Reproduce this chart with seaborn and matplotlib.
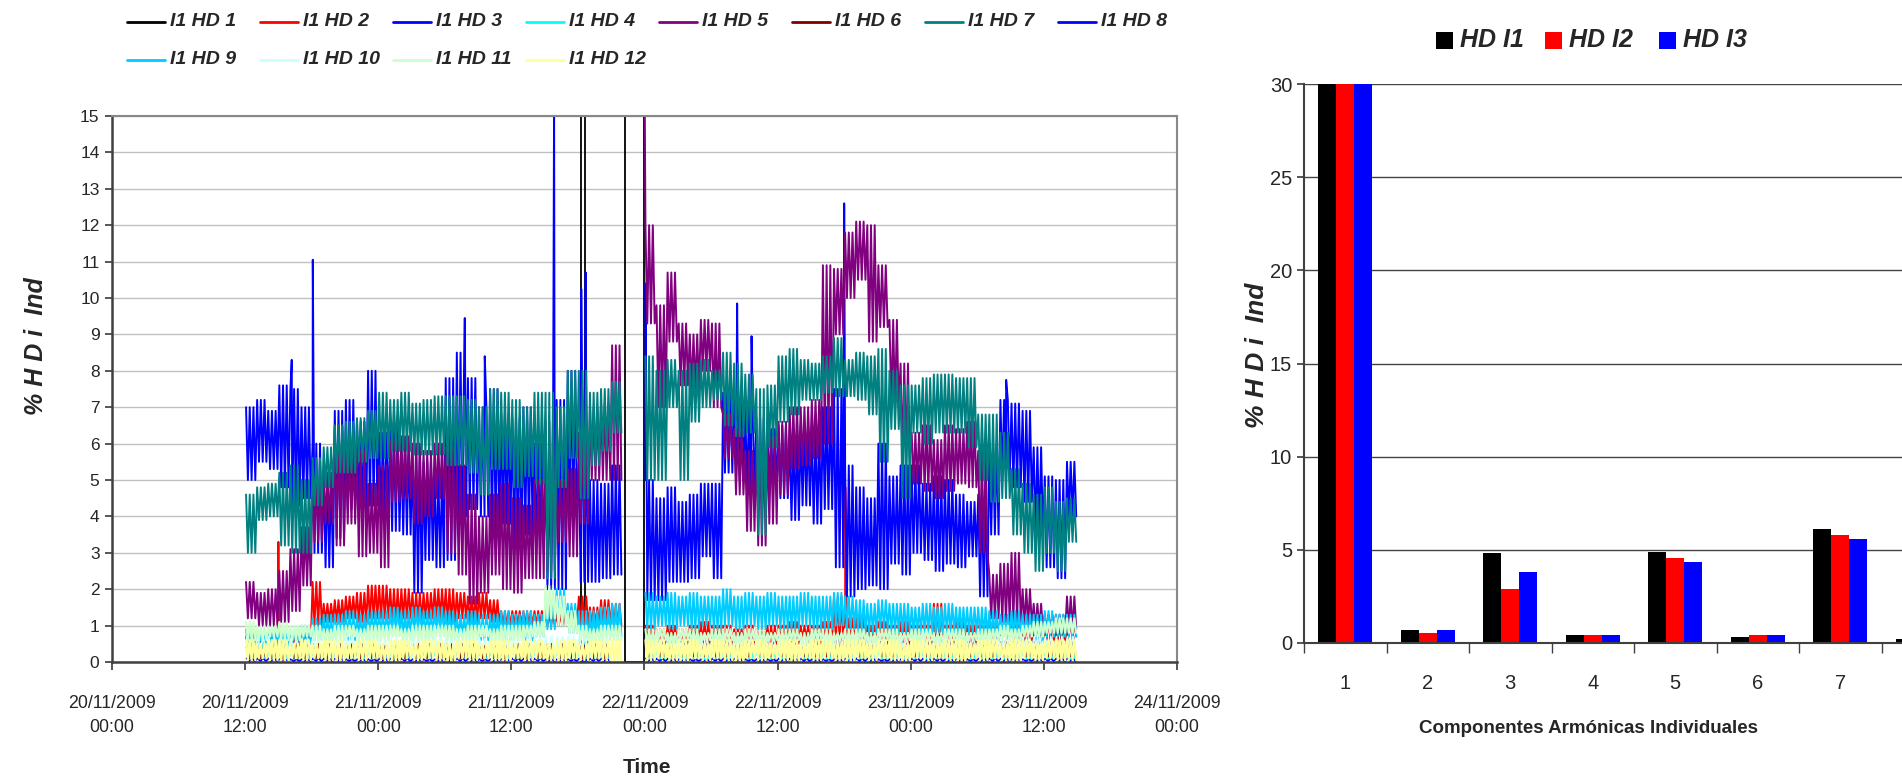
import pandas as pd
import seaborn as sns
import matplotlib
matplotlib.use('Agg')
import matplotlib.pyplot as plt
from matplotlib.lines import Line2D
from matplotlib.patches import Rectangle

# hourly readings (hour counted from 20/11/2009 00:00), None = no data
hour0 = 12
# HD3 (blue): top and bottom of the band in each hour
hd3_hi = [7.0, 7.2, 6.9, 7.6, 7.5, 7.0, 6.0, 5.2, 6.9, 7.2,
          6.6, 8.0, 6.3, 6.5, 6.0, 5.9, 5.5, 5.2, 7.8, 8.5,
          7.8, 7.0, 7.5, 6.8, 6.7, 7.0, 6.0, 5.4, 7.2, 8.0,
          5.5, 5.0, 4.9, 5.4, None, None, 5.0, 4.5, 4.8, 4.4,
          4.6, 4.9, 4.9, 7.4, 7.3, 7.0, 6.7, 6.4, 6.5, 6.2,
          6.5, 6.4, 7.0, 7.5, 5.4, 4.8, 4.5, 6.0, 5.1, 5.4,
          5.4, 4.9, 5.1, 5.0, 4.6, 4.4, 4.6, 6.0, 7.2, 7.1,
          6.9, 5.9, 5.1, 5.0, 5.5]
hd3_lo = [5.0, 5.5, 5.3, 4.8, 4.3, 4.5, 3.0, 2.6, 3.4, 4.2,
          3.9, 4.3, 4.0, 3.6, 3.5, 1.9, 2.8, 2.6, 2.8, 4.0,
          4.2, 4.0, 3.6, 3.8, 3.3, 3.5, 3.0, 2.0, 2.0, 4.0,
          2.2, 2.2, 2.3, 2.4, None, None, 1.7, 1.7, 2.2, 2.2,
          2.3, 2.9, 2.3, 5.2, 5.0, 4.6, 4.4, 4.7, 4.5, 3.9,
          4.3, 3.8, 4.2, 2.6, 1.8, 2.0, 2.1, 2.0, 2.7, 2.4,
          3.0, 2.8, 2.5, 2.7, 2.6, 2.9, 1.8, 3.5, 5.0, 4.8,
          4.4, 3.5, 2.6, 2.3, 4.0]
hd3_spikes = [(16.2, 8.3), (18.1, 11.05), (31.8, 9.45), (33.6, 8.4), (39.85, 15.5),
              (42.3, 10.25), (42.7, 10.7), (48.1, 10.4), (56.35, 9.85),
              (57.65, 8.95), (66.0, 12.6), (80.6, 7.75)]
# HD5 (purple)
hd5_hi = [2.2, 1.9, 2.0, 2.5, 3.1, 3.7, 5.0, 5.2, 6.5, 5.8,
          5.8, 4.9, 5.4, 6.1, 6.2, 6.0, 5.8, 6.0, 5.9, 5.4,
          4.6, 4.0, 4.6, 4.9, 4.5, 4.3, 5.0, 6.6, 5.0, 5.3,
          6.3, 7.0, 7.1, 8.7, None, None, 12.0, 9.8, 10.7, 9.3,
          9.0, 9.4, 9.3, 6.8, 6.4, 5.8, 6.0, 6.2, 6.6, 7.0,
          7.0, 7.2, 10.9, 10.8, 11.8, 12.1, 12.0, 10.9, 9.4, 8.2,
          6.3, 6.5, 6.1, 6.5, 6.4, 6.6, 5.8, 2.4, 2.7, 3.0,
          2.0, 1.6, 1.3, 1.3, 1.8]
hd5_lo = [1.2, 1.0, 1.0, 1.1, 1.4, 2.1, 3.3, 3.8, 3.2, 3.8,
          2.9, 3.0, 2.6, 4.4, 4.5, 3.8, 4.0, 4.5, 3.0, 2.4,
          1.6, 1.9, 2.4, 2.0, 1.9, 2.3, 2.3, 2.5, 3.3, 2.9,
          3.8, 5.0, 5.0, 5.0, None, None, 9.3, 7.0, 8.8, 7.6,
          7.5, 8.0, 7.0, 5.6, 4.6, 3.6, 3.2, 3.8, 4.6, 5.3,
          5.4, 5.6, 6.0, 9.0, 10.0, 10.5, 8.8, 9.2, 7.0, 5.6,
          4.9, 4.7, 4.5, 4.7, 4.9, 4.8, 3.0, 1.2, 1.1, 1.1,
          1.0, 0.9, 0.85, 0.8, 0.9]
hd5_spikes = [(48.02, 15.5)]
# HD7 (teal)
hd7_hi = [4.6, 4.8, 4.9, 5.2, 5.4, 5.0, 5.6, 5.9, 6.5, 6.6,
          6.7, 6.9, 7.4, 7.2, 7.4, 7.1, 7.2, 7.3, 7.3, 7.3,
          7.2, 7.0, 7.5, 7.4, 7.2, 7.0, 7.4, 7.4, 7.0, 8.0,
          8.0, 7.4, 7.5, 7.7, None, None, 8.4, 8.0, 8.3, 8.0,
          8.2, 8.3, 8.0, 8.5, 8.2, 7.9, 7.5, 7.6, 8.4, 8.6,
          8.3, 8.2, 8.4, 8.9, 8.3, 8.5, 8.4, 8.6, 8.0, 7.6,
          7.6, 7.8, 7.9, 7.9, 7.8, 7.8, 6.8, 6.8, 6.3, 5.3,
          4.9, 4.6, 4.8, 4.4, 4.5]
hd7_lo = [3.0, 3.9, 4.0, 3.2, 3.0, 3.0, 4.3, 4.8, 5.2, 5.2,
          5.5, 5.6, 5.6, 5.8, 5.8, 5.7, 5.7, 5.7, 5.4, 5.4,
          5.2, 4.6, 5.3, 5.3, 4.8, 5.1, 4.9, 2.3, 4.8, 5.6,
          4.5, 5.4, 5.8, 6.3, None, None, 5.0, 5.0, 7.0, 5.0,
          6.6, 7.0, 7.2, 6.5, 6.2, 6.3, 3.5, 5.9, 6.6, 6.8,
          7.2, 7.2, 7.4, 7.3, 7.3, 7.2, 6.8, 5.5, 6.4, 4.5,
          6.3, 6.0, 6.3, 6.3, 6.3, 5.9, 5.0, 4.4, 4.5, 3.5,
          3.0, 2.5, 3.0, 2.5, 3.3]
# HD2 (red)
hd2_hi = [0.7, 0.7, 0.7, 0.8, 0.8, 0.9, 2.2, 1.6, 1.7, 1.8,
          1.9, 2.1, 2.1, 2.0, 2.0, 1.9, 1.9, 2.0, 2.0, 1.9,
          1.8, 1.9, 1.7, 1.4, 1.4, 1.4, 1.4, 1.3, 1.3, 1.5,
          1.8, 1.5, 1.7, 1.6, None, None, 1.0, 0.9, 1.0, 0.9,
          1.0, 1.1, 1.0, 1.0, 0.9, 1.0, 0.9, 1.0, 1.0, 1.1,
          1.0, 1.0, 1.1, 1.8, 1.2, 1.2, 1.0, 1.1, 1.0, 1.1,
          1.0, 1.0, 1.6, 1.0, 1.1, 1.0, 1.0, 1.1, 1.0, 1.1,
          1.0, 1.0, 1.3, 1.0, 1.1]
hd2_lo = [0.3, 0.3, 0.3, 0.4, 0.4, 0.5, 1.0, 1.1, 1.1, 1.2,
          1.1, 1.2, 1.2, 1.1, 1.2, 1.1, 1.2, 1.2, 1.1, 1.2,
          1.1, 1.2, 1.1, 1.0, 1.0, 1.0, 1.0, 1.0, 1.0, 1.0,
          1.0, 1.0, 1.0, 1.0, None, None, 0.6, 0.5, 0.6, 0.5,
          0.6, 0.5, 0.6, 0.5, 0.6, 0.5, 0.6, 0.5, 0.6, 0.5,
          0.6, 0.5, 0.6, 0.6, 0.7, 0.6, 0.6, 0.5, 0.6, 0.5,
          0.6, 0.5, 0.6, 0.5, 0.6, 0.5, 0.6, 0.6, 0.7, 0.6,
          0.6, 0.7, 0.6, 0.6, 0.7]
hd2_spikes = [(15.0, 3.3), (66.1, 4.8)]
# HD9 (light blue)
hd9_hi = [0.9, 0.8, 0.9, 0.8, 0.9, 1.0, 1.2, 1.3, 1.3, 1.4,
          1.3, 1.4, 1.4, 1.5, 1.4, 1.5, 1.4, 1.5, 1.4, 1.3,
          1.4, 1.3, 1.3, 1.4, 1.3, 1.4, 1.3, 1.8, 2.0, 1.6,
          1.4, 1.4, 1.5, 1.6, None, None, 1.9, 1.8, 1.9, 1.8,
          1.9, 1.8, 1.8, 2.0, 1.8, 1.9, 1.8, 1.9, 1.8, 1.8,
          1.9, 1.8, 1.8, 1.9, 1.8, 1.7, 1.6, 1.7, 1.6, 1.6,
          1.5, 1.6, 1.5, 1.6, 1.5, 1.5, 1.5, 1.4, 1.3, 1.4,
          1.3, 1.3, 1.4, 1.3, 1.3]
hd9_lo = [0.4, 0.4, 0.5, 0.4, 0.5, 0.5, 0.6, 0.6, 0.7, 0.6,
          0.7, 0.7, 0.7, 0.8, 0.7, 0.8, 0.7, 0.8, 0.7, 0.7,
          0.7, 0.6, 0.7, 0.6, 0.7, 0.6, 0.7, 0.9, 1.0, 0.8,
          0.5, 0.7, 0.7, 0.7, None, None, 0.9, 1.0, 0.9, 1.0,
          0.9, 1.0, 0.9, 1.0, 0.9, 1.0, 0.9, 1.0, 0.9, 0.9,
          1.0, 0.9, 0.9, 1.0, 0.9, 0.8, 0.8, 0.9, 0.8, 0.8,
          0.8, 0.8, 0.8, 0.8, 0.8, 0.8, 0.7, 0.7, 0.7, 0.7,
          0.7, 0.6, 0.7, 0.7, 0.7]
# HD11 (pale green)
hd11_hi = [1.1, 1.0, 1.0, 1.1, 1.0, 1.0, 1.0, 0.9, 1.0, 1.0,
           0.9, 1.0, 1.0, 1.0, 0.9, 1.0, 1.0, 1.0, 1.0, 0.9,
           1.0, 1.0, 0.9, 1.0, 1.0, 1.0, 1.1, 2.1, 1.8, 1.4,
           1.0, 0.9, 1.0, 1.0, None, None, 0.9, 0.9, 0.8, 0.9,
           0.9, 0.8, 0.9, 0.9, 0.8, 0.9, 0.9, 0.8, 0.9, 0.9,
           0.8, 0.9, 0.9, 0.8, 0.9, 0.9, 0.8, 0.9, 0.9, 0.8,
           0.9, 0.9, 0.8, 0.9, 0.9, 0.8, 0.9, 0.9, 1.0, 0.9,
           1.0, 1.1, 1.1, 1.2, 1.2]
hd11_lo = [0.6, 0.6, 0.7, 0.6, 0.6, 0.7, 0.6, 0.6, 0.6, 0.7,
           0.6, 0.6, 0.6, 0.7, 0.6, 0.6, 0.6, 0.7, 0.6, 0.6,
           0.6, 0.7, 0.6, 0.6, 0.6, 0.7, 0.7, 1.2, 1.0, 0.8,
           0.6, 0.6, 0.6, 0.6, None, None, 0.5, 0.6, 0.5, 0.6,
           0.5, 0.6, 0.5, 0.6, 0.5, 0.6, 0.5, 0.6, 0.5, 0.6,
           0.5, 0.6, 0.5, 0.6, 0.5, 0.6, 0.5, 0.6, 0.5, 0.6,
           0.5, 0.6, 0.5, 0.6, 0.5, 0.6, 0.5, 0.6, 0.6, 0.6,
           0.7, 0.7, 0.8, 0.8, 0.8]
# HD12 (pale yellow)
hd12_hi = [0.6, 0.5, 0.6, 0.6, 0.5, 0.6, 0.5, 0.6, 0.6, 0.5,
           0.6, 0.6, 0.5, 0.6, 0.6, 0.5, 0.6, 0.6, 0.5, 0.6,
           0.6, 0.5, 0.6, 0.6, 0.5, 0.6, 0.6, 0.5, 0.6, 0.6,
           0.5, 0.6, 0.6, 0.6, None, None, 0.6, 0.6, 0.5, 0.6,
           0.6, 0.5, 0.6, 0.6, 0.5, 0.6, 0.6, 0.5, 0.6, 0.6,
           0.5, 0.6, 0.6, 0.5, 0.6, 0.6, 0.5, 0.6, 0.6, 0.5,
           0.6, 0.6, 0.5, 0.6, 0.6, 0.5, 0.6, 0.6, 0.5, 0.6,
           0.6, 0.5, 0.6, 0.6, 0.6]
hd12_lo = [0.05, 0.1, 0.05, 0.0, 0.1, 0.05, 0.1, 0.05, 0.0, 0.1,
           0.05, 0.1, 0.05, 0.0, 0.1, 0.05, 0.1, 0.05, 0.0, 0.1,
           0.05, 0.1, 0.05, 0.0, 0.1, 0.05, 0.1, 0.05, 0.0, 0.1,
           0.05, 0.1, 0.05, 0.0, None, None, 0.05, 0.1, 0.05, 0.0,
           0.1, 0.05, 0.1, 0.05, 0.0, 0.1, 0.05, 0.1, 0.05, 0.0,
           0.1, 0.05, 0.1, 0.05, 0.0, 0.1, 0.05, 0.1, 0.05, 0.0,
           0.1, 0.05, 0.1, 0.05, 0.0, 0.1, 0.05, 0.1, 0.05, 0.0,
           0.1, 0.05, 0.1, 0.05, 0.05]

# small harmonics, read every 3 hours
hd4_hi = [0.3, 0.25, 0.3, 0.3, 0.25, 0.3, 0.3, 0.25, 0.3, 0.3, 0.3, None,
          0.35, 0.3, 0.35, 0.3, 0.35, 0.3, 0.35, 0.3, 0.3, 0.3, 0.3, 0.3, 0.3]
hd4_lo = [0.05] * 11 + [None] + [0.05] * 13
hd6_hi = [0.4, 0.45, 0.5, 0.5, 0.45, 0.5, 0.5, 0.45, 0.5, 0.5, 0.5, None,
          0.8, 0.75, 0.8, 0.8, 0.75, 0.8, 0.8, 0.75, 0.8, 0.8, 0.75, 0.8, 0.8]
hd6_lo = [0.1] * 11 + [None] + [0.15] * 13
hd8_hi = [0.1, 0.08, 0.1, 0.08, 0.1, 0.08, 0.1, 0.08, 0.1, 0.08, 0.1, None,
          0.1, 0.08, 0.1, 0.08, 0.1, 0.08, 0.1, 0.08, 0.1, 0.08, 0.1, 0.08, 0.1]
hd8_lo = [0.02] * 11 + [None] + [0.02] * 13
hd10_hi = [0.7, 0.65, 0.7, 0.7, 0.65, 0.7, 0.7, 0.65, 0.7, 0.7, 0.7, None,
           0.7, 0.65, 0.7, 0.7, 0.65, 0.7, 0.7, 0.65, 0.7, 0.7, 0.7, 0.7, 0.7]
hd10_lo = [0.3] * 11 + [None] + [0.3] * 13

# HD1 sits at 100 % (off scale) except two short drops
hd1_time = [12.6, 42.3, 42.3, 42.6, 42.6, 46.2, 46.2, 48.0, 48.0, 86.6]
hd1_value = [100, 100, 0, 0, 100, 100, 0, 0, 100, 100]

date_labels = ['20/11/2009\n00:00', '20/11/2009\n12:00', '21/11/2009\n00:00',
               '21/11/2009\n12:00', '22/11/2009\n00:00', '22/11/2009\n12:00',
               '23/11/2009\n00:00', '23/11/2009\n12:00', '24/11/2009\n00:00']

# right chart
harmonics = ['1', '2', '3', '4', '5', '6', '7', '8']
hd_i1 = [100, 0.69, 4.81, 0.43, 4.89, 0.32, 6.12, 0.21]
hd_i2 = [100, 0.53, 2.89, 0.43, 4.57, 0.43, 5.80, 0.20]
hd_i3 = [100, 0.69, 3.82, 0.43, 4.35, 0.43, 5.58, 0.20]

names = ['I1 HD %d' % i for i in range(1, 13)]
colors = ['black', '#FF0000', '#0000FF', '#00FFFF', '#800080', '#800000',
          '#008080', '#0000FF', '#00CCFF', '#CCFFFF', '#CCFFCC', '#FFFF99']


def zigzag(start, step, hi, lo, n, spikes=()):
    # run n times between the high and low reading of every interval
    t, v, seg = [], [], []
    s = 0
    gaps = []
    for i, (a, b) in enumerate(zip(hi, lo)):
        h = start + i * step
        if a is None:
            s += 1
            gaps.append(h)
            continue
        for j in range(2 * n):
            t.append(h + step * (j + 0.5) / (2 * n))
            v.append(a if j % 2 == 0 else b)
            seg.append(s)
    for ts, vs in spikes:
        t.append(ts)
        v.append(vs)
        seg.append(sum(1 for g in gaps if g < ts))
    df = pd.DataFrame({'t': t, 'v': v, 'seg': seg})
    return df.sort_values(['seg', 't'])


series = {
    'I1 HD 2': (zigzag(hour0, 1, hd2_hi, hd2_lo, 3, hd2_spikes), 1.4),
    'I1 HD 3': (zigzag(hour0, 1, hd3_hi, hd3_lo, 3, hd3_spikes), 1.4),
    'I1 HD 4': (zigzag(hour0, 3, hd4_hi, hd4_lo, 6), 1.2),
    'I1 HD 5': (zigzag(hour0, 1, hd5_hi, hd5_lo, 3, hd5_spikes), 1.4),
    'I1 HD 6': (zigzag(hour0, 3, hd6_hi, hd6_lo, 6), 1.2),
    'I1 HD 7': (zigzag(hour0, 1, hd7_hi, hd7_lo, 3), 1.4),
    'I1 HD 8': (zigzag(hour0, 3, hd8_hi, hd8_lo, 6), 1.2),
    'I1 HD 9': (zigzag(hour0, 1, hd9_hi, hd9_lo, 3), 1.4),
    'I1 HD 10': (zigzag(hour0, 3, hd10_hi, hd10_lo, 6), 1.2),
    'I1 HD 11': (zigzag(hour0, 1, hd11_hi, hd11_lo, 3), 1.5),
    'I1 HD 12': (zigzag(hour0, 1, hd12_hi, hd12_lo, 3), 1.6),
}

sns.set_theme(style='white')
plt.rcParams['font.family'] = ['Liberation Sans', 'DejaVu Sans']

W, H = 1902, 781
fig = plt.figure(figsize=(W / 100, H / 100), dpi=100)

# ---- left: time series ----
ax = fig.add_axes([112 / W, 1 - 662 / H, 1065 / W, 546 / H])
sns.lineplot(x=hd1_time, y=hd1_value, color='black', lw=1.3, ax=ax,
             estimator=None, sort=False)
for name, color in zip(names[1:], colors[1:]):
    df, lw = series[name]
    sns.lineplot(data=df, x='t', y='v', units='seg', estimator=None,
                 sort=False, color=color, lw=lw, ax=ax, legend=False)

ax.set_xlim(0, 96)
ax.set_ylim(0, 15)
ax.set_yticks(range(16))
ax.set_xticks(range(0, 97, 12))
ax.set_xticklabels(date_labels, fontsize=12.8, linespacing=1.55)
ax.tick_params(axis='y', labelsize=12.5, left=True, length=5, color='#404040', pad=4)
ax.tick_params(axis='x', bottom=True, length=6, color='#404040', pad=18)
ax.yaxis.grid(True, color='#C0C0C0', lw=1)
ax.set_axisbelow(True)
ax.set_xlabel('')
ax.set_ylabel('')
for s in ['top', 'right']:
    ax.spines[s].set_color('#888888')
    ax.spines[s].set_linewidth(1.5)
for s in ['left', 'bottom']:
    ax.spines[s].set_color('#404040')
    ax.spines[s].set_linewidth(1.8)

fig.text(0.019, 0.557, '% H D i  Ind', rotation=90, ha='center', va='center',
         fontsize=18, weight='bold', style='italic')
fig.text(0.340, 0.017, 'Time', ha='center', va='center', fontsize=15, weight='bold')

# legend laid out like the original: 8 equal columns, 2 rows
for i, (name, color) in enumerate(zip(names, colors)):
    row, col = divmod(i, 8)
    x0 = (127 + col * 133) / W
    y0 = 1 - (22 + row * 38) / H
    fig.add_artist(Line2D([x0, x0 + 38 / W], [y0, y0], transform=fig.transFigure,
                          color=color, lw=2))
    fig.text(x0 + 43 / W, y0, name, ha='left', va='center', fontsize=14,
             weight='bold', style='italic')

# ---- right: bar chart ----
bars = pd.DataFrame({
    'harm': harmonics * 3,
    'val': hd_i1 + hd_i2 + hd_i3,
    'serie': ['HD I1'] * 8 + ['HD I2'] * 8 + ['HD I3'] * 8,
})
ax2 = fig.add_axes([1304 / W, 1 - 643 / H, 660 / W, 559 / H])
sns.barplot(data=bars, x='harm', y='val', hue='serie',
            palette=['black', '#FF0000', '#0000FF'], width=0.66, saturation=1,
            linewidth=0, ax=ax2, legend=False)
ax2.set_xlim(-0.5, 7.5)
ax2.set_ylim(0, 30)
ax2.set_yticks(range(0, 31, 5))
ax2.yaxis.grid(True, color='#444444', lw=1)
ax2.set_axisbelow(True)
ax2.set_xticks(range(7))
ax2.set_xticklabels(harmonics[:7])
ax2.set_xticks([i + 0.5 for i in range(-1, 8)], minor=True)
ax2.tick_params(axis='x', which='minor', bottom=True, length=7, color='#404040')
ax2.tick_params(axis='x', which='major', length=0, pad=22, labelsize=14.5)
ax2.tick_params(axis='y', left=True, length=5, color='#404040', labelsize=14.5)
ax2.set_xlabel('')
ax2.set_ylabel('')
for s in ['top', 'right']:
    ax2.spines[s].set_visible(False)
for s in ['left', 'bottom']:
    ax2.spines[s].set_color('#404040')
    ax2.spines[s].set_linewidth(1.5)

fig.text(0.661, 0.545, '% H D i  Ind', rotation=90, ha='center', va='center',
         fontsize=19, weight='bold', style='italic')
fig.text(0.835, 0.0666, 'Componentes Armónicas Individuales', ha='center',
         va='center', fontsize=13.5, weight='bold')

for x_sq, label, color in zip([1436, 1545, 1659], ['HD I1', 'HD I2', 'HD I3'],
                              ['black', '#FF0000', '#0000FF']):
    fig.add_artist(Rectangle((x_sq / W, 1 - 49 / H), 17 / W, 17 / H,
                             transform=fig.transFigure, color=color, lw=0))
    fig.text((x_sq + 24) / W, 1 - 40 / H, label, ha='left', va='center',
             fontsize=18, weight='bold', style='italic')

fig.savefig('out.png', dpi=100)
